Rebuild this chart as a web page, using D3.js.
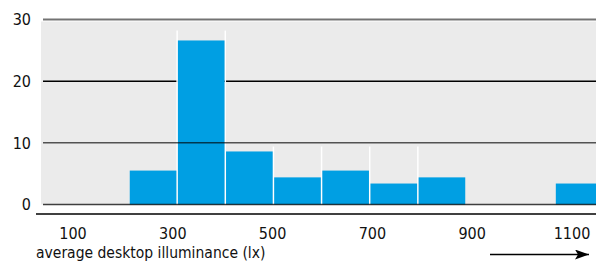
<!DOCTYPE html>
<html>
<head>
<meta charset="utf-8">
<script src="https://cdn.jsdelivr.net/npm/d3@7"></script>
<style>
  body { margin: 0; background: #fff; }
  text { font-family: "DejaVu Sans Condensed", "DejaVu Sans", sans-serif; font-stretch: condensed; fill: #111; }
</style>
</head>
<body>
<svg id="chart"></svg>
<script>
// histogram bins (lx) and share per bin
var binStart = [200, 300, 400, 500, 600, 700, 800, 1085];
var binValue = [5.5, 26.6, 8.6, 4.4, 5.5, 3.4, 4.4, 3.4];
var binWidth = 100;

// faint white edge lines seen between some bars
var edgeAt = [300, 400, 500, 600, 700, 800];
var edgeTop = [28.2, 28.2, 9.4, 9.4, 9.4, 9.4];

var yTicks = [0, 10, 20, 30];
var xTickLabels = ["100", "300", "500", "700", "900", "1100"];
var xTitle = "average desktop illuminance (lx)";

var width = 596, height = 262;

var svg = d3.select("#chart")
  .attr("width", width)
  .attr("height", height);

var xScale = d3.scaleLinear()
  .domain([200, 900])
  .range([129, 466]);

var yScale = d3.scaleLinear()
  .domain([0, 30])
  .range([204.5, 19.5]);

var xLabels = d3.scalePoint()
  .domain(xTickLabels)
  .range([73, 572]);

// grey panel
svg.append("rect")
  .attr("x", 41)
  .attr("y", yScale(30) + 2)
  .attr("width", width - 41)
  .attr("height", yScale(0) - yScale(30) - 2)
  .attr("fill", "#ebebeb");

// gridline behind bars (20)
svg.append("line")
  .attr("x1", 43).attr("x2", width)
  .attr("y1", yScale(20)).attr("y2", yScale(20))
  .attr("stroke", "#000").attr("stroke-width", 1.5);

// white edge lines
svg.selectAll(".edge")
  .data(edgeAt)
  .enter()
  .append("line")
  .attr("class", "edge")
  .attr("x1", d => xScale(d)).attr("x2", d => xScale(d))
  .attr("y1", (d, i) => yScale(edgeTop[i]))
  .attr("y2", yScale(0))
  .attr("stroke", "#fff")
  .attr("stroke-width", 1.5);

// bars
svg.selectAll(".bar")
  .data(binStart)
  .enter()
  .append("rect")
  .attr("class", "bar")
  .attr("x", d => xScale(d) + 0.75)
  .attr("width", d => xScale(d + binWidth) - xScale(d) - 1.5)
  .attr("y", (d, i) => yScale(binValue[i]))
  .attr("height", (d, i) => yScale(0) - yScale(binValue[i]))
  .attr("fill", "#009fe3");

// gridlines on top (0, 10) and top rule (30)
svg.append("line")
  .attr("x1", 43).attr("x2", width)
  .attr("y1", yScale(10)).attr("y2", yScale(10))
  .attr("stroke", "#000").attr("stroke-opacity", 0.65).attr("stroke-width", 1.5);

svg.append("line")
  .attr("x1", 43).attr("x2", width)
  .attr("y1", yScale(0)).attr("y2", yScale(0))
  .attr("stroke", "#000").attr("stroke-opacity", 0.75).attr("stroke-width", 1.5);

svg.append("line")
  .attr("x1", 43).attr("x2", width)
  .attr("y1", yScale(30)).attr("y2", yScale(30))
  .attr("stroke", "#000").attr("stroke-opacity", 0.55).attr("stroke-width", 2);

// y tick labels
svg.selectAll(".ylab")
  .data(yTicks)
  .enter()
  .append("text")
  .attr("class", "ylab")
  .attr("x", 31)
  .attr("y", d => yScale(d))
  .attr("dy", "0.36em")
  .attr("text-anchor", "end")
  .style("font-size", "16px")
  .text(d => d);

// x axis line
svg.append("line")
  .attr("x1", 36).attr("x2", width)
  .attr("y1", 214).attr("y2", 214)
  .attr("stroke", "#000").attr("stroke-width", 1.5);

// x tick labels
svg.selectAll(".xlab")
  .data(xTickLabels)
  .enter()
  .append("text")
  .attr("class", "xlab")
  .attr("x", d => xLabels(d))
  .attr("y", 239)
  .attr("text-anchor", "middle")
  .style("font-size", "16px")
  .text(d => d);

// axis title
svg.append("text")
  .attr("x", 36)
  .attr("y", 258)
  .style("font-size", "15.5px")
  .text(xTitle);

// arrow
svg.append("defs").append("marker")
  .attr("id", "head")
  .attr("viewBox", "0 0 14 10")
  .attr("refX", 14).attr("refY", 5)
  .attr("markerWidth", 14).attr("markerHeight", 10)
  .attr("markerUnits", "userSpaceOnUse")
  .attr("orient", "auto")
  .append("path")
  .attr("d", "M0,0 L14,5 L0,10 L3,5 Z")
  .attr("fill", "#000");

svg.append("line")
  .attr("x1", 490).attr("x2", 589)
  .attr("y1", 254.5).attr("y2", 254.5)
  .attr("stroke", "#000").attr("stroke-width", 1.3)
  .attr("marker-end", "url(#head)");
</script>
</body>
</html>
